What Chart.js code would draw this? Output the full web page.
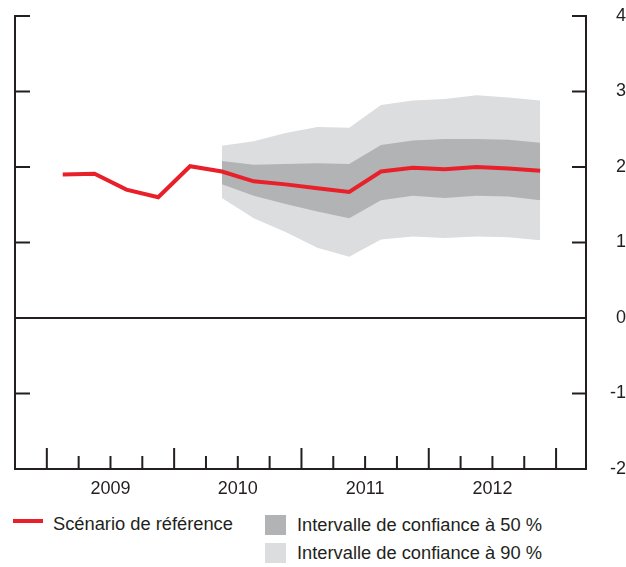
<!DOCTYPE html>
<html lang="fr">
<head>
<meta charset="utf-8">
<script src="https://cdn.jsdelivr.net/npm/chart.js@4.4.1/dist/chart.umd.min.js"></script>
<style>
    html, body { margin: 0; padding: 0; background: #fff; }
    #wrap { position: relative; width: 626px; height: 567px; font-family: "Liberation Sans", Arial, sans-serif; color: #231f20; }
    #plot { position: absolute; left: 0; top: 0; }
    .leg { position: absolute; font-size: 18.3px; line-height: 20px; white-space: nowrap; }
    .swatch { position: absolute; width: 21px; height: 20px; }
</style>
</head>
<body>
<div id="wrap">
    <canvas id="plot" width="626" height="505"></canvas>
    <div class="swatch" style="left:13px; top:519px; width:30px; height:4px; background:#e8202a;"></div>
    <div class="leg" style="left:53px; top:514px;">Scénario de référence</div>
    <div class="swatch" style="left:265px; top:515px; background:#b2b3b5;"></div>
    <div class="leg" style="left:297px; top:515px;">Intervalle de confiance à 50 %</div>
    <div class="swatch" style="left:265px; top:543px; background:#dcdddf;"></div>
    <div class="leg" style="left:297px; top:543px;">Intervalle de confiance à 90 %</div>
</div>
<script>
// Quarterly data, 2009T1 - 2012T4
const quarters = ['2009T1', '2009T2', '2009T3', '2009T4', '2010T1', '2010T2', '2010T3', '2010T4',
                  '2011T1', '2011T2', '2011T3', '2011T4', '2012T1', '2012T2', '2012T3', '2012T4'];
const years = ['2009', '2010', '2011', '2012'];
const yTicks = [-2, -1, 0, 1, 2, 3, 4];

const baseline = [1.90, 1.91, 1.70, 1.60, 2.01, 1.94, 1.81, 1.77, 1.72, 1.67, 1.94, 1.99, 1.97, 2.00, 1.98, 1.95];
const upper50 = [null, null, null, null, null, 2.08, 2.03, 2.04, 2.05, 2.04, 2.29, 2.35, 2.37, 2.37, 2.36, 2.32];
const lower50 = [null, null, null, null, null, 1.77, 1.62, 1.51, 1.41, 1.32, 1.56, 1.62, 1.59, 1.62, 1.61, 1.56];
const upper90 = [null, null, null, null, null, 2.28, 2.34, 2.45, 2.53, 2.52, 2.82, 2.88, 2.90, 2.95, 2.92, 2.88];
const lower90 = [null, null, null, null, null, 1.59, 1.32, 1.14, 0.93, 0.81, 1.04, 1.08, 1.06, 1.08, 1.07, 1.03];

const INK = '#231f20';
const RED = '#e8202a';
const DARK = '#b2b3b5';
const LIGHT = '#dcdddf';
const tickFont = { family: '"Liberation Sans", Arial, sans-serif', size: 18 };

// each value sits in the middle of its quarter
const toPoints = arr => arr.map((v, i) => ({ x: i + 0.5, y: v }));

// frame, inward ticks and zero line
const framePlugin = {
    id: 'frame',
    afterDatasetsDraw(chart) {
        const { ctx, chartArea: a, scales: { x, y } } = chart;
        ctx.save();
        ctx.strokeStyle = INK;
        ctx.lineWidth = 2;
        ctx.beginPath();
        ctx.moveTo(a.left, a.top - 1);
        ctx.lineTo(a.left, a.bottom);
        ctx.lineTo(a.right, a.bottom);
        ctx.lineTo(a.right, a.top - 1);
        yTicks.forEach(v => {
            const py = y.getPixelForValue(v);
            ctx.moveTo(a.left, py); ctx.lineTo(a.left + 15, py);
            ctx.moveTo(a.right, py); ctx.lineTo(a.right - 14, py);
        });
        const y0 = y.getPixelForValue(0);
        ctx.moveTo(a.left, y0); ctx.lineTo(a.right, y0);
        for (let q = 0; q <= quarters.length; q++) {
            const px = x.getPixelForValue(q);
            const len = q % 4 === 0 ? 21 : 13;
            ctx.moveTo(px, a.bottom); ctx.lineTo(px, a.bottom - len);
        }
        ctx.stroke();
        ctx.restore();
    }
};

new Chart(document.getElementById('plot'), {
    type: 'line',
    data: {
        datasets: [
            {
                label: 'Scénario de référence',
                data: toPoints(baseline),
                borderColor: RED,
                borderWidth: 4,
                borderJoinStyle: 'miter',
                pointRadius: 0,
                fill: false,
                order: 0
            },
            {
                label: 'Intervalle de confiance à 50 %',
                data: toPoints(upper50),
                borderWidth: 0,
                pointRadius: 0,
                backgroundColor: DARK,
                fill: '+1',
                order: 1
            },
            {
                data: toPoints(lower50),
                borderWidth: 0,
                pointRadius: 0,
                fill: false,
                order: 1
            },
            {
                label: 'Intervalle de confiance à 90 %',
                data: toPoints(upper90),
                borderWidth: 0,
                pointRadius: 0,
                backgroundColor: LIGHT,
                fill: '+1',
                order: 2
            },
            {
                data: toPoints(lower90),
                borderWidth: 0,
                pointRadius: 0,
                fill: false,
                order: 2
            }
        ]
    },
    options: {
        responsive: false,
        animation: false,
        layout: { padding: { left: 15, top: 0, right: 0, bottom: 0 } },
        plugins: { legend: { display: false }, tooltip: { enabled: false } },
        scales: {
            x: {
                type: 'linear',
                min: -1,
                max: 16.94,
                grid: { display: false, drawTicks: false },
                border: { display: false },
                afterBuildTicks: s => { s.ticks = years.map((yr, k) => ({ value: 4 * k + 2 })); },
                ticks: {
                    autoSkip: false,
                    maxRotation: 0,
                    padding: 9,
                    font: tickFont,
                    color: INK,
                    callback: (v, i) => years[i]
                },
                afterFit: s => { s.height = 36; }
            },
            y: {
                position: 'right',
                min: -2,
                max: 4,
                grid: { display: false, drawTicks: false },
                border: { display: false },
                afterBuildTicks: s => { s.ticks = yTicks.map(v => ({ value: v })); },
                ticks: {
                    crossAlign: 'far',
                    padding: 17,
                    font: tickFont,
                    color: INK
                },
                afterFit: s => {
                    s.width = 40;
                    s.paddingTop = 16;
                    s.paddingBottom = 0;
                }
            }
        }
    },
    plugins: [framePlugin]
});
</script>
</body>
</html>
